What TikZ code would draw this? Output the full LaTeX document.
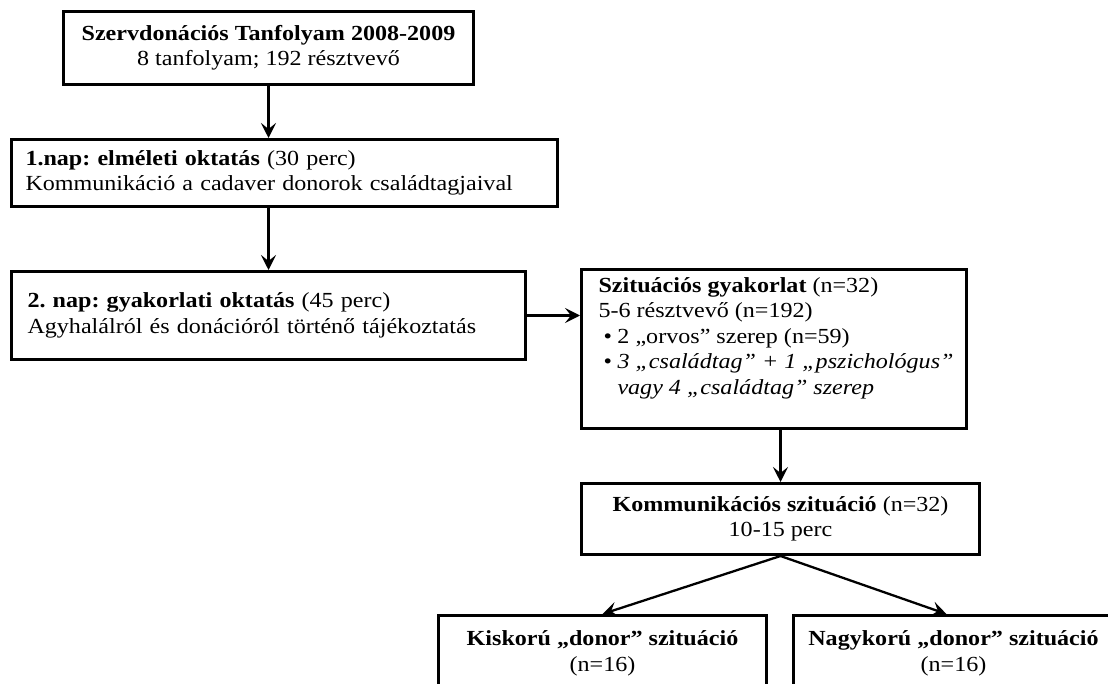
\documentclass[tikz,border=0pt]{standalone}
\usepackage{fontspec}
\setmainfont{Liberation Serif}[FakeStretch=1.12]
\usetikzlibrary{arrows.meta,calc}
\frenchspacing
\begin{document}
\begin{tikzpicture}[x=1pt,y=-1pt,
  font=\fontsize{21.5}{25.5}\selectfont,
  box/.style={draw, line width=3pt, rectangle, anchor=north west},
  flow/.style={line width=2.3pt, -{Stealth[length=15pt,width=15pt,inset=6pt]}}]
\useasboundingbox (0,0) rectangle (1108,684);
\clip (0,0) rectangle (1108,684);

% course overview
\node[box, inner sep=0pt, minimum width=410pt, minimum height=73pt, align=center] (b1) at (62,10)
  {\textbf{Szervdonációs Tanfolyam 2008-2009}\\8 tanfolyam; 192 résztvevő};

% day one
\node[box, inner xsep=14pt, inner ysep=0pt, text width=518pt, minimum height=67pt, align=left] (b2) at (10,138)
  {\textbf{1.nap: elméleti oktatás} (30 perc)\\Kommunikáció a cadaver donorok családtagjaival};

% day two
\node[box, inner xsep=16pt, inner ysep=0pt, text width=482pt, minimum height=88pt, align=left] (b3) at (10,270)
  {\textbf{2. nap: gyakorlati oktatás} (45 perc)\\Agyhalálról és donációról történő tájékoztatás};

% role-play groups
\node[box, inner sep=0pt] (b4) at (580,268)
  {\parbox[c][159pt][t]{385pt}{\raggedright\leftskip=17pt\relax
   \vspace*{8pt}%
   \textbf{Szituációs gyakorlat} (n=32)\\
   5-6 résztvevő (n=192)\\
   \hspace*{5pt}\makebox[14pt][l]{•}2 „orvos” szerep (n=59)\\
   \hspace*{5pt}\makebox[14pt][l]{•}\textit{3 „családtag” + 1 „pszichológus”}\\
   \hspace*{19pt}\textit{vagy 4 „családtag” szerep}}};

% communication situation
\node[box, inner sep=0pt, minimum width=398pt, minimum height=71pt, align=center] (b5) at (580,482)
  {\textbf{Kommunikációs szituáció} (n=32)\\10-15 perc};

% outcome branches
\node[box, inner sep=0pt, minimum width=328pt, minimum height=76pt, align=center] (b6) at (437,614)
  {\textbf{Kiskorú „donor” szituáció}\\(n=16)};
\node[box, inner sep=0pt, minimum width=320pt, minimum height=76pt, align=center] (b7) at (792,614)
  {\textbf{Nagykorú „donor” szituáció}\\(n=16)};

% connectors
\draw[flow] (b1.south) -- (b1.south |- b2.north);
\draw[flow] (b1.south |- b2.south) -- (b1.south |- b3.north);
\draw[flow] (b3.east) -- (b3.east -| b4.west);
\draw[flow] (b5.north |- b4.south) -- (b5.north);
\draw[flow] (b5.south) -- (b6.north);
\draw[flow] (b5.south) -- ($(b7.north west)!0.478!(b7.north east)$);
\end{tikzpicture}
\end{document}
